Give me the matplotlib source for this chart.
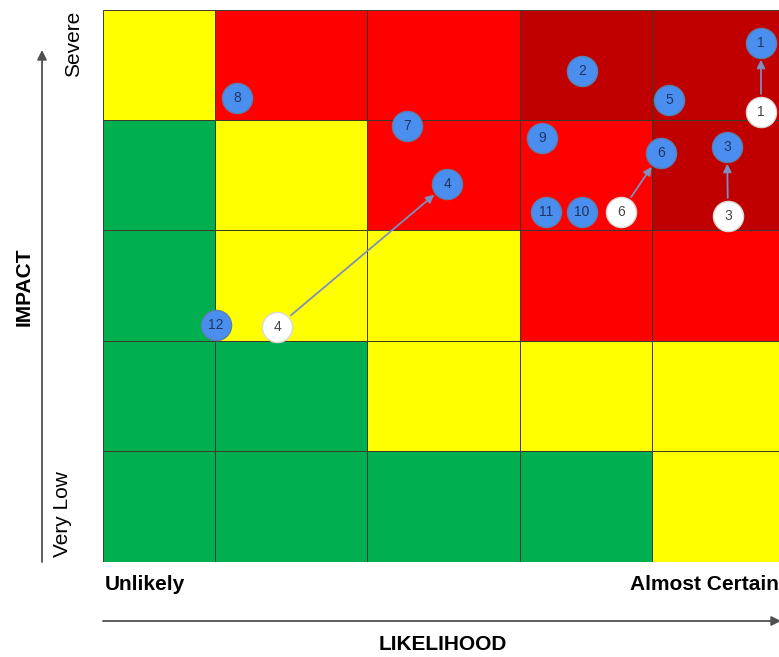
import numpy as np
import matplotlib
matplotlib.use("Agg")
import matplotlib.pyplot as plt

plt.rcParams['font.family'] = ['Liberation Sans', 'DejaVu Sans']

# grid layout (canvas units, likelihood to the right, impact upward)
col_edges = [0, 112, 264, 417, 549, 680]
row_edges = [0, 111, 221, 332, 442, 552]

# cell colours, top row (Severe) first
Y, R, D, G = '#FFFF00', '#FF0000', '#C00000', '#00B050'
cell_colors = [
    [Y, R, R, D, D],
    [G, Y, R, R, D],
    [G, Y, Y, R, R],
    [G, G, Y, Y, Y],
    [G, G, G, G, Y],
]

# current risk positions
risk_ids = ['1', '2', '3', '4', '5', '6', '7', '8', '9', '10', '11', '12']
risk_x = [658, 479, 624, 344, 566, 558, 304, 134, 439, 479, 443, 113]
risk_y = [519, 491, 415, 378, 462, 409, 436, 464, 424, 350, 350, 237]

# previous positions of the risks that moved
prev_ids = ['1', '3', '4', '6']
prev_x = [658, 625, 174, 518]
prev_y = [450, 346, 235, 350]

W, H = 779, 657
fig = plt.figure(figsize=(W / 100, H / 100), dpi=100)
ax = fig.add_axes([103 / W, (H - 562) / H, 676 / W, 552 / H])

n_rows = len(cell_colors)
for r, row in enumerate(cell_colors):
    y0 = row_edges[n_rows - 1 - r]
    y1 = row_edges[n_rows - r]
    for c, col in enumerate(row):
        x0, x1 = col_edges[c], col_edges[c + 1]
        ax.add_patch(plt.Rectangle((x0, y0), x1 - x0, y1 - y0, facecolor=col,
                                   edgecolor='#3a3a2a', linewidth=0.7, zorder=1))

ax.set_xlim(0, 676)
ax.set_ylim(0, 552)
ax.axis('off')

# arrows from previous to current position
for pid, px_, py_ in zip(prev_ids, prev_x, prev_y):
    i = risk_ids.index(pid)
    ax.annotate('', xy=(risk_x[i], risk_y[i]), xytext=(px_, py_),
                arrowprops=dict(arrowstyle='-|>', color='#7d8fbf', lw=1.3,
                                mutation_scale=12, shrinkA=13, shrinkB=12),
                zorder=2)

ax.scatter(risk_x, risk_y, s=470, color='#4a8ff0', edgecolors='#5d7fae',
           linewidths=1.0, zorder=3)
for t, x, y in zip(risk_ids, risk_x, risk_y):
    ax.text(x, y, t, ha='center', va='center', fontsize=10, color='#1f3560', zorder=4)

ax.scatter(prev_x, prev_y, s=470, color='white', edgecolors='#d8d8d8',
           linewidths=1.0, zorder=3)
for t, x, y in zip(prev_ids, prev_x, prev_y):
    ax.text(x, y, t, ha='center', va='center', fontsize=10, color='#444444', zorder=4)


def fp(x, y):
    # pixel position (from top-left) to figure fraction
    return (x / W, 1 - y / H)


fig.text(*fp(74, 44), 'Severe', rotation=90, ha='center', va='center', fontsize=15)
fig.text(*fp(63, 514), 'Very Low', rotation=90, ha='center', va='center', fontsize=15)
fig.text(*fp(24, 287), 'IMPACT', rotation=90, ha='center', va='center',
         fontsize=15, fontweight='bold')
fig.text(*fp(105, 584), 'Unlikely', ha='left', va='center', fontsize=15, fontweight='bold')
fig.text(*fp(630, 584), 'Almost Certain', ha='left', va='center', fontsize=15,
         fontweight='bold')
fig.text(*fp(443, 645), 'LIKELIHOOD', ha='center', va='center', fontsize=15,
         fontweight='bold')

axis_arrow = dict(arrowstyle='-|>', color='#505050', lw=1.3, mutation_scale=14,
                  shrinkA=0, shrinkB=0)
fig.add_artist(matplotlib.patches.FancyArrowPatch(fp(42, 562), fp(42, 50),
               transform=fig.transFigure, **axis_arrow))
fig.add_artist(matplotlib.patches.FancyArrowPatch(fp(103, 621), fp(781, 621),
               transform=fig.transFigure, **axis_arrow))

fig.savefig('out.png', dpi=100)
